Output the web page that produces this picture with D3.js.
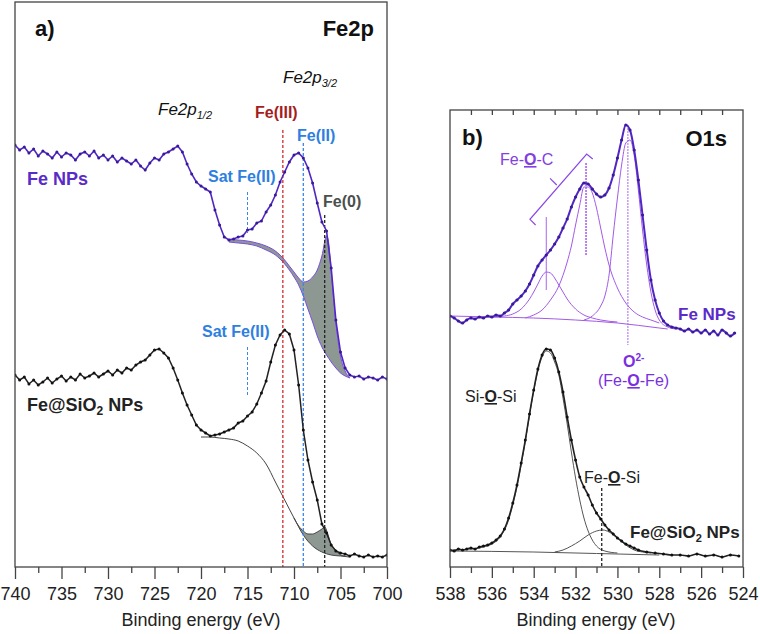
<!DOCTYPE html>
<html><head><meta charset="utf-8">
<script src="https://cdn.jsdelivr.net/npm/d3@7"></script>
<style>body{margin:0;background:#fff}svg{display:block}</style>
</head><body>
<svg id="c" width="760" height="634"></svg>
<script>
// ---------------- DATA ----------------
// Panel a) Fe2p  (binding energy eV, intensity a.u.)
const fe2pEnergy = d3.range(81).map(i => 740 - 0.5 * i);
const fe2pFeNPs = [422,417,420,414,418,411,416,413,409,415,410,414,412,407,413,415,411,416,409,412,
  407,411,405,409,406,403,407,401,397,404,409,407,413,415,418,421,415,403,393,385,
  381,378,375,357,342,330,327,328,330,331,337,338,344,346,355,362,372,385,395,405,
  412,414,409,399,384,364,345,336,299,247,215,199,192,190,191,188,190,189,187,190,188];
const fe2pFeSiO2 = [192,187,190,183,187,182,185,189,184,188,191,186,190,187,193,189,191,194,190,193,
  196,192,197,194,199,197,202,205,207,212,217,218,214,209,199,187,174,162,152,142,
  137,134,131,132,133,135,137,139,144,146,151,155,163,174,186,205,222,232,237,233,
  217,182,137,107,85,67,43,34,22,16,14,13,11,13,11,10,12,10,11,10,12];
const bgFeNPsE = [717,716,715,714,713,712,711.5,711,710.5,710,709.5,709,708.5,708,707.5,707,706.5,706,705.5,705,704.5,704];
const bgFeNPs  = [325,324,323,321,317,312,308,303,297,290,282,271,258,245,231,220,212,205,199,194,191,189];
const fe0FeNPsE = [717,716,715,714,713,712,711.5,711,710.5,710,709.5,709,708.5,708,707.5,707,706.5,706.3,706,705.5,705,704.5,704];
const fe0FeNPs  = [328,327,326,324,321,316,312,307,301,295,289,285,286,290,297,311,331,326,295,244,211,196,189];
const bgFeSiO2E = [720,719,718,717,716,715,714,713,712,711,710,709,708,707,706,705,704];
const bgFeSiO2  = [130,130,129,128,126,121,114,103,85,67,49,32,21,15,12,11,10];
const fe0FeSiO2E = [710,709.5,709,708.5,708,707.5,707,706.7,706.4,706,705.5,705,704.5];
const fe0FeSiO2  = [49,41,36,33,33,35,38,40,34,22,17,12,11];
// reference lines (eV) and their top intensity
const fe2pRefE   = [711.2, 709.0, 706.7];
const fe2pRefTop = [437, 424, 352];
const fe2pRefCol = ["#d42a2a", "#3b86e6", "#222"];
const satE = 715.0;
const satSegs = [[375,334],[220,170]];
const fe2pMajor = [740,735,730,725,720,715,710,705,700];
const fe2pMinor = [737.5,732.5,727.5,722.5,717.5,712.5,707.5,702.5];

// Panel b) O1s
const o1sEnergyFe = d3.range(69).map(i => 538 - 0.2 * i);
const o1sFeNPs = [251,249,246,244,247,249,248,250,249,251,250,252,251,254,257,263,267,271,276,283,
  292,301,307,312,317,323,330,339,348,360,370,378,384,383,378,373,370,372,379,392,
  409,427,442,437,417,387,352,317,287,267,254,246,242,240,239,238,236,238,235,237,
  234,237,233,236,232,237,234,231,234];
const o1sEnergySi = d3.range(46).map(i => 538 - 0.2 * i).concat(d3.range(12).map(i => 528.6 - 0.4 * i));
const o1sFeSiO2 = [17,16,18,17,18,19,18,20,21,22,24,27,31,38,49,64,82,104,127,153,
  177,198,212,218,217,209,195,175,150,127,107,90,80,72,62,54,48,42,37,33,
  29,26,23,21,19,17,15,14,13,12,12,11,13,11,12,10,12,11];
const o1sBaseFeE = [538,536,534,532,530,528,527.6];
const o1sBaseFe  = [251,250,249,247,244,239,238];
const feOC1E = [536,535.4,535,534.6,534.2,534,533.8,533.6,533.4,533.2,533,532.8,532.6,532.4,532,531.6,531.2,530.8,530];
const feOC1  = [250,251,253,258,268,275,283,291,295,294,289,282,275,268,258,252,249,247,245];
const feOC2E = [534.4,534,533.6,533.2,532.8,532.4,532.2,532,531.8,531.6,531.4,531.2,531,530.8,530.6,530.4,530,529.6,529.2,528.8,528.4,528];
const feOC2  = [249,252,257,267,281,305,321,342,362,380,380,374,359,339,319,302,279,264,255,250,247,244];
const feOFeE = [531.6,531.2,530.8,530.6,530.4,530.2,530,529.8,529.6,529.4,529.2,529,528.8,528.6,528.4,528.2,528,527.6,527.2];
const feOFe  = [247,251,261,271,292,332,369,402,424,427,412,377,337,302,275,257,247,240,238];
const siOSiE = [538,537,536.4,536,535.6,535.2,535,534.8,534.6,534.4,534.2,534,533.8,533.6,533.4,533.2,533,532.8,532.6,532.4,532.2,532,531.8,531.6,531.4,531.2,531,530.6,530];
const siOSi  = [17,18,20,23,30,47,62,80,102,126,152,176,196,210,216,214,205,192,169,143,115,89,67,49,36,27,21,16,14];
const feOSiE = [533,532.6,532.2,531.8,531.4,531,530.7,530.4,530,529.6,529.2,528.8,528.4];
const feOSi  = [15,17,21,26,32,36,37,35,29,22,17,15,14];
const o1sBaseSiE = [538,534,531,528];
const o1sBaseSi  = [16,15,13.5,12];
const o1sMarkE = [533.4, 531.5, 529.5];
const o1sMarkI = [[350,277],[404,312],[442,222]];
const feOSiMarkE = 530.75, feOSiMarkTop = 79;
const bracketE = [533.91,534.18,531.47,531.18];
const bracketI = [342,347.7,413,408];
const bracketTickE = [532.9,533.22], bracketTickI = [382,388.7];
const o1sMajor = [538,536,534,532,530,528,526,524];
const o1sMinor = [537,535,533,531,529,527,525];
const o1sTop = d3.range(13).map(i => 537 - i);

// ---------------- DRAW ----------------
const FONT = "'Liberation Sans', Arial, Helvetica, sans-serif";
const svg = d3.select('#c').attr('font-family', FONT);
const xa = d3.scaleLinear().domain([740,700]).range([15,387]);
const ya = d3.scaleLinear().domain([0,565]).range([567,2]);
const xb = d3.scaleLinear().domain([538,524]).range([450,743]);
const yb = d3.scaleLinear().domain([0,457]).range([567,110]);
const zip = (E,V) => E.map((e,i) => [e, V[i]]);

const defs = svg.append('defs');
defs.append('clipPath').attr('id','ca').append('rect').attr('x',15).attr('y',2).attr('width',372).attr('height',565);
defs.append('clipPath').attr('id','cb').append('rect').attr('x',450).attr('y',110).attr('width',293).attr('height',457);

const PURPLE_LINE = '#5127c4', PURPLE_DOT = '#3a1a98', COMP = '#a25ae8', GREY = '#8e9893';

// ---- Panel a
const ga = svg.append('g').attr('clip-path','url(#ca)');
const la = d3.line().x(d => xa(d[0])).y(d => ya(d[1])).curve(d3.curveMonotoneX);
const lin = d3.line().x(d => xa(d[0])).y(d => ya(d[1]));
function band(g, upE, up, loE, lo, stroke) {
  const u = zip(upE, up), l = zip(loE, lo);
  const hi = d3.max(upE), loEn = d3.min(upE);
  const lIn = l.filter(d => d[0] <= hi && d[0] >= loEn);
  g.append('path').attr('d', la(u) + la(lIn.slice().reverse()).replace('M','L') + 'Z')
    .attr('fill', GREY).attr('stroke','none');
  g.append('path').attr('d', la(u)).attr('fill','none').attr('stroke', stroke).attr('stroke-width',1);
  g.append('path').attr('d', la(l)).attr('fill','none').attr('stroke', stroke).attr('stroke-width',1);
}
band(ga, fe0FeNPsE, fe0FeNPs, bgFeNPsE, bgFeNPs, '#7a4fe0');
band(ga, fe0FeSiO2E, fe0FeSiO2, bgFeSiO2E, bgFeSiO2, '#444');

// dashed reference lines
fe2pRefE.forEach((e,i) => {
  ga.append('line').attr('x1', xa(e)).attr('x2', xa(e)).attr('y1', ya(fe2pRefTop[i])).attr('y2', ya(0))
    .attr('stroke', fe2pRefCol[i]).attr('stroke-width', 1.3).attr('stroke-dasharray','3,2');
});
satSegs.forEach(s => {
  ga.append('line').attr('x1', xa(satE)).attr('x2', xa(satE)).attr('y1', ya(s[0])).attr('y2', ya(s[1]))
    .attr('stroke', '#3b86e6').attr('stroke-width', 1).attr('stroke-dasharray','3,2');
});

function spectrum(g, line, xs, ys, E, V, lc, dc, lw, r) {
  const p = zip(E, V);
  g.append('path').attr('d', line(p)).attr('fill','none').attr('stroke', lc).attr('stroke-width', lw);
  g.selectAll(null).data(p).enter().append('circle')
    .attr('cx', d => xs(d[0])).attr('cy', d => ys(d[1])).attr('r', r).attr('fill', dc);
}
spectrum(ga, lin, xa, ya, fe2pEnergy, fe2pFeNPs, PURPLE_LINE, PURPLE_DOT, 1.6, 1.5);
spectrum(ga, lin, xa, ya, fe2pEnergy, fe2pFeSiO2, '#222', '#111', 1.5, 1.5);

// frame + axis a
svg.append('rect').attr('x',15).attr('y',2).attr('width',372).attr('height',565)
  .attr('fill','none').attr('stroke','#444').attr('stroke-width',1.3);
const axA = svg.append('g').attr('transform','translate(0,567)')
  .call(d3.axisBottom(xa).tickValues(fe2pMajor).tickSize(12).tickPadding(8).tickFormat(d3.format('d')));
axA.select('.domain').remove();
axA.attr('font-size',18).attr('font-family',FONT);
axA.selectAll('text').attr('fill','#222');
axA.selectAll('line').attr('stroke','#444').attr('stroke-width',1.3);
const axAm = svg.append('g').attr('transform','translate(0,567)')
  .call(d3.axisBottom(xa).tickValues(fe2pMinor).tickSize(6).tickFormat(''));
axAm.select('.domain').remove();
axAm.selectAll('line').attr('stroke','#444').attr('stroke-width',1.3);

// ---- Panel b
const gb = svg.append('g').attr('clip-path','url(#cb)');
const lb = d3.line().x(d => xb(d[0])).y(d => yb(d[1])).curve(d3.curveMonotoneX);
function comp(E, V, col, w) {
  gb.append('path').attr('d', lb(zip(E,V))).attr('fill','none').attr('stroke', col).attr('stroke-width', w || 1);
}
comp(o1sBaseFeE, o1sBaseFe, COMP);
comp(feOC1E, feOC1, COMP);
comp(feOC2E, feOC2, COMP);
comp(feOFeE, feOFe, COMP);
comp(o1sBaseSiE, o1sBaseSi, '#555');
comp(siOSiE, siOSi, '#555');
comp(feOSiE, feOSi, '#555');
o1sMarkE.forEach((e,i) => {
  gb.append('line').attr('x1', xb(e)).attr('x2', xb(e)).attr('y1', yb(o1sMarkI[i][0])).attr('y2', yb(o1sMarkI[i][1]))
    .attr('stroke', '#a866ee').attr('stroke-width', i === 1 ? 1.6 : 1).attr('stroke-dasharray', i === 0 ? null : '2,1');
});
gb.append('line').attr('x1', xb(feOSiMarkE)).attr('x2', xb(feOSiMarkE)).attr('y1', yb(feOSiMarkTop)).attr('y2', yb(0))
  .attr('stroke','#222').attr('stroke-width',1.3).attr('stroke-dasharray','3,2');
spectrum(gb, lb, xb, yb, o1sEnergyFe, o1sFeNPs, PURPLE_LINE, PURPLE_DOT, 2, 1.6);
spectrum(gb, lb, xb, yb, o1sEnergySi, o1sFeSiO2, '#222', '#111', 1.6, 1.5);
const lbl = d3.line().x(d => xb(d[0])).y(d => yb(d[1]));
svg.append('path').attr('d', lbl(zip(bracketE, bracketI))).attr('fill','none').attr('stroke','#8a46e6').attr('stroke-width',1.2);
svg.append('path').attr('d', lbl(zip(bracketTickE, bracketTickI))).attr('fill','none').attr('stroke','#8a46e6').attr('stroke-width',1.2);

svg.append('rect').attr('x',450).attr('y',110).attr('width',293).attr('height',457)
  .attr('fill','none').attr('stroke','#444').attr('stroke-width',1.3);
const axB = svg.append('g').attr('transform','translate(0,567)')
  .call(d3.axisBottom(xb).tickValues(o1sMajor).tickSize(11).tickPadding(9).tickFormat(d3.format('d')));
axB.select('.domain').remove();
axB.attr('font-size',18).attr('font-family',FONT);
axB.selectAll('text').attr('fill','#222');
axB.selectAll('line').attr('stroke','#444').attr('stroke-width',1.3);
const axBm = svg.append('g').attr('transform','translate(0,567)')
  .call(d3.axisBottom(xb).tickValues(o1sMinor).tickSize(6).tickFormat(''));
axBm.select('.domain').remove();
axBm.selectAll('line').attr('stroke','#444').attr('stroke-width',1.3);
const axBt = svg.append('g').attr('transform','translate(0,110)')
  .call(d3.axisBottom(xb).tickValues(o1sTop).tickSize(5).tickFormat(''));
axBt.select('.domain').remove();
axBt.selectAll('line').attr('stroke','#444').attr('stroke-width',1.3);

// ---- Texts
function txt(x, y, s, o) {
  o = o || {};
  const t = svg.append('text').attr('x', x).attr('y', y).attr('font-size', o.size || 16)
    .attr('font-weight', o.bold ? 'bold' : 'normal').attr('fill', o.fill || '#111')
    .attr('text-anchor', o.anchor || 'start');
  if (o.italic) t.attr('font-style','italic');
  if (s) t.text(s);
  return t;
}
txt(201, 626, 'Binding energy (eV)', {size:18, anchor:'middle', fill:'#222'});
txt(596, 626, 'Binding energy (eV)', {size:18, anchor:'middle', fill:'#222'});
txt(35, 36, 'a)', {size:22, bold:true});
txt(374, 36, 'Fe2p', {size:22, bold:true, anchor:'end'});
txt(462, 145, 'b)', {size:22, bold:true});
txt(727, 146, 'O1s', {size:22, bold:true, anchor:'end'});
let t = txt(283, 83, 'Fe2p', {size:17, italic:true});
t.append('tspan').attr('font-size',11).attr('dy',4).text('3/2');
t = txt(158, 115, 'Fe2p', {size:17, italic:true});
t.append('tspan').attr('font-size',11).attr('dy',4).text('1/2');
txt(255, 118, 'Fe(III)', {size:16, bold:true, fill:'#a51d1d'});
txt(297, 141, 'Fe(II)', {size:16, bold:true, fill:'#2e7fe0'});
txt(208, 182, 'Sat Fe(II)', {size:16, bold:true, fill:'#2e7fe0'});
txt(202, 337, 'Sat Fe(II)', {size:16, bold:true, fill:'#2e7fe0'});
txt(323, 207, 'Fe(0)', {size:16, bold:true, fill:'#4a504d'});
txt(27, 185, 'Fe NPs', {size:18, bold:true, fill:'#5a2bc9'});
t = txt(27, 411, 'Fe@SiO', {size:18, bold:true, fill:'#222'});
t.append('tspan').attr('font-size',12).attr('dy',4).text('2');
t.append('tspan').attr('dy',-4).text(' NPs');
txt(678, 320, 'Fe NPs', {size:17, bold:true, fill:'#5a2bc9'});
t = txt(630, 538, 'Fe@SiO', {size:17, bold:true, fill:'#222'});
t.append('tspan').attr('font-size',11).attr('dy',4).text('2');
t.append('tspan').attr('dy',-4).text(' NPs');
function oLabel(x, y, a, b, col, size) {
  const tt = txt(x, y, a, {size: size, fill: col});
  tt.append('tspan').attr('font-weight','bold').attr('text-decoration','underline').text('O');
  tt.append('tspan').text(b);
  return tt;
}
oLabel(500, 165, 'Fe-', '-C', '#8240e0', 16);
oLabel(465, 402, 'Si-', '-Si', '#222', 16);
oLabel(584, 483, 'Fe-', '-Si', '#222', 16);
t = txt(623, 367, 'O', {size:16, bold:true, fill:'#7a2fe0'});
t.append('tspan').attr('font-size',10).attr('dy',-6).text('2-');
oLabel(598, 386, '(Fe-', '-Fe)', '#7a2fe0', 16);
</script>
</body></html>
